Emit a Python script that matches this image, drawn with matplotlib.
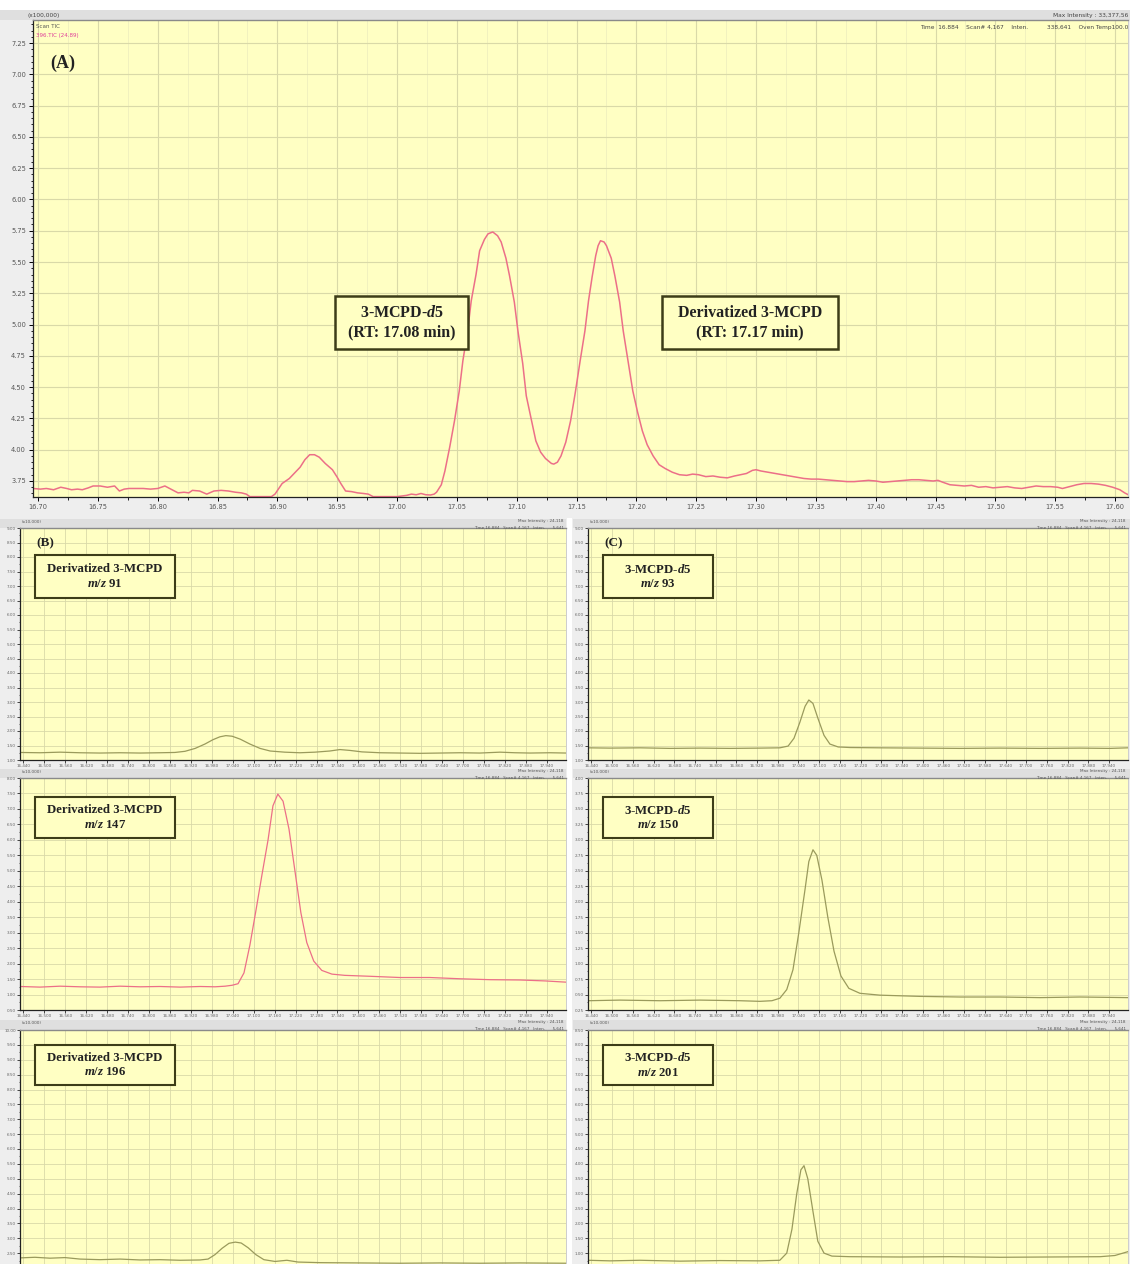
import matplotlib
matplotlib.use('Agg')
import matplotlib.pyplot as plt
from matplotlib.patches import Rectangle
from matplotlib.ticker import MultipleLocator, FormatStrFormatter

plt.rcParams['font.family'] = ['DejaVu Sans']
plt.rcParams['mathtext.fontset'] = 'custom'
plt.rcParams['mathtext.rm'] = 'Liberation Serif:bold'
plt.rcParams['mathtext.it'] = 'Liberation Serif:bold:italic'
plt.rcParams['mathtext.bf'] = 'Liberation Serif:bold'

# ---- (A) TIC chromatogram, intensity in x100,000 ----
tic_time = [16.696, 16.702, 16.707, 16.713, 16.719, 16.724, 16.728, 16.733, 16.737, 16.742,
            16.746, 16.752, 16.758, 16.764, 16.768, 16.772, 16.776, 16.782, 16.788, 16.794,
            16.800, 16.806, 16.811, 16.817, 16.822, 16.826, 16.829, 16.835, 16.841, 16.847,
            16.853, 16.859, 16.865, 16.870, 16.874, 16.877, 16.886, 16.895, 16.898, 16.904,
            16.910, 16.915, 16.919, 16.923, 16.927, 16.931, 16.935, 16.940, 16.946, 16.950,
            16.953, 16.957, 16.962, 16.967, 16.972, 16.976, 16.980, 17.000, 17.008, 17.012,
            17.016, 17.020, 17.024, 17.028, 17.031,
            17.033, 17.037, 17.040, 17.044, 17.048, 17.052, 17.055, 17.059, 17.062, 17.066,
            17.069, 17.073, 17.076, 17.080, 17.084, 17.087, 17.091, 17.094, 17.098, 17.101,
            17.105, 17.108, 17.112, 17.116, 17.120, 17.124, 17.129, 17.131,
            17.134, 17.137, 17.141, 17.145, 17.149, 17.153, 17.157, 17.160, 17.163, 17.166,
            17.168, 17.170, 17.173, 17.175, 17.179, 17.182, 17.186, 17.189, 17.193, 17.197,
            17.201, 17.205, 17.209, 17.214, 17.219, 17.224, 17.230, 17.236,
            17.242, 17.247, 17.252, 17.258, 17.264, 17.270, 17.276, 17.282, 17.287, 17.292,
            17.297, 17.300, 17.304, 17.310, 17.316, 17.322, 17.328, 17.334, 17.340, 17.346,
            17.352, 17.358, 17.364, 17.370, 17.376, 17.382, 17.388, 17.394, 17.400, 17.406,
            17.412, 17.418, 17.424, 17.430, 17.436, 17.442, 17.448, 17.452, 17.456, 17.462,
            17.468, 17.474, 17.480, 17.486, 17.492, 17.498, 17.504, 17.510, 17.516, 17.522,
            17.528, 17.534, 17.540, 17.546, 17.552, 17.556, 17.562, 17.568, 17.574, 17.580,
            17.586, 17.592, 17.598, 17.604, 17.608, 17.611]
tic_inten = [3.69, 3.685, 3.69, 3.68, 3.70, 3.69, 3.68, 3.685, 3.68, 3.695,
             3.71, 3.71, 3.70, 3.71, 3.67, 3.685, 3.69, 3.69, 3.69, 3.685,
             3.69, 3.71, 3.685, 3.655, 3.66, 3.655, 3.675, 3.67, 3.645, 3.67,
             3.675, 3.67, 3.66, 3.655, 3.645, 3.625, 3.625, 3.625, 3.645, 3.73,
             3.77, 3.82, 3.86, 3.92, 3.96, 3.96, 3.94, 3.89, 3.84, 3.78,
             3.73, 3.67, 3.665, 3.655, 3.65, 3.645, 3.625, 3.625, 3.635, 3.645,
             3.64, 3.65, 3.64, 3.638, 3.645,
             3.66, 3.72, 3.83, 4.02, 4.23, 4.47, 4.71, 4.95, 5.19, 5.40,
             5.59, 5.68, 5.725, 5.74, 5.71, 5.66, 5.53, 5.39, 5.18, 4.95,
             4.69, 4.43, 4.25, 4.07, 3.98, 3.93, 3.89, 3.885,
             3.90, 3.95, 4.06, 4.23, 4.46, 4.71, 4.95, 5.19, 5.38, 5.55,
             5.63, 5.67, 5.66, 5.63, 5.53, 5.39, 5.18, 4.95, 4.71, 4.47,
             4.30, 4.15, 4.04, 3.95, 3.88, 3.85, 3.82, 3.80,
             3.795, 3.805, 3.80, 3.785, 3.79, 3.78, 3.775, 3.79, 3.80, 3.81,
             3.835, 3.84, 3.83, 3.82, 3.81, 3.80, 3.79, 3.78, 3.77, 3.765,
             3.765, 3.76, 3.755, 3.75, 3.745, 3.745, 3.75, 3.755, 3.75, 3.74,
             3.745, 3.75, 3.755, 3.76, 3.76, 3.755, 3.75, 3.755, 3.74, 3.72,
             3.715, 3.71, 3.715, 3.70, 3.705, 3.695, 3.70, 3.705, 3.695, 3.69,
             3.70, 3.71, 3.705, 3.705, 3.70, 3.69, 3.705, 3.72, 3.73, 3.73,
             3.725, 3.715, 3.70, 3.68, 3.655, 3.64]
tic_ticks = [16.70, 16.75, 16.80, 16.85, 16.90, 16.95, 17.00, 17.05, 17.10, 17.15,
             17.20, 17.25, 17.30, 17.35, 17.40, 17.45, 17.50, 17.55, 17.60]
tic_yticks = [3.75, 4.00, 4.25, 4.50, 4.75, 5.00, 5.25, 5.50, 5.75, 6.00,
              6.25, 6.50, 6.75, 7.00, 7.25]
rt_d5 = 17.08
rt_mcpd = 17.17

# ---- (B) derivatized 3-MCPD ions ----
mz91_time = [16.430, 16.487, 16.545, 16.602, 16.659, 16.717, 16.774, 16.831, 16.874, 16.903,
             16.932, 16.960, 16.983, 17.003, 17.020, 17.038, 17.061, 17.089, 17.118, 17.147,
             17.189, 17.232, 17.275, 17.318, 17.347, 17.376, 17.410, 17.462, 17.519, 17.576,
             17.634, 17.691, 17.748, 17.806, 17.849, 17.892, 17.949, 17.995]
mz91_inten = [1.26, 1.25, 1.27, 1.25, 1.24, 1.25, 1.24, 1.25, 1.26, 1.30,
              1.40, 1.55, 1.70, 1.80, 1.84, 1.82, 1.72, 1.55, 1.40, 1.31,
              1.27, 1.25, 1.27, 1.31, 1.36, 1.33, 1.28, 1.25, 1.24, 1.23,
              1.24, 1.25, 1.24, 1.27, 1.25, 1.24, 1.25, 1.24]

mz147_time = [16.430, 16.487, 16.545, 16.602, 16.659, 16.717, 16.774, 16.831, 16.889, 16.946,
              16.989, 17.018, 17.038, 17.055, 17.072, 17.089, 17.106, 17.124, 17.141, 17.155,
              17.169, 17.184, 17.201, 17.218, 17.235, 17.252, 17.272, 17.295, 17.324, 17.361,
              17.433, 17.519, 17.605, 17.691, 17.777, 17.863, 17.935, 17.995]
mz147_inten = [1.26, 1.24, 1.27, 1.25, 1.24, 1.27, 1.25, 1.26, 1.24, 1.26,
               1.25, 1.27, 1.30, 1.35, 1.70, 2.60, 3.70, 4.90, 6.00, 7.10,
               7.48, 7.25, 6.35, 5.00, 3.65, 2.68, 2.08, 1.78, 1.66, 1.62,
               1.59, 1.55, 1.55, 1.51, 1.48, 1.47, 1.44, 1.40]

mz196_time = [16.430, 16.473, 16.516, 16.559, 16.602, 16.659, 16.717, 16.774, 16.831, 16.889,
              16.946, 16.969, 16.989, 17.009, 17.029, 17.047, 17.064, 17.084, 17.106, 17.129,
              17.161, 17.195, 17.227, 17.290, 17.404, 17.519, 17.634, 17.748, 17.863, 17.995]
mz196_inten = [2.34, 2.36, 2.33, 2.35, 2.30, 2.28, 2.30, 2.27, 2.28, 2.26,
               2.27, 2.30, 2.45, 2.66, 2.83, 2.87, 2.84, 2.68, 2.45, 2.28,
               2.22, 2.26, 2.20, 2.18, 2.17, 2.16, 2.17, 2.16, 2.17, 2.16]

# ---- (C) 3-MCPD-d5 ions ----
mz93_time = [16.430, 16.494, 16.581, 16.668, 16.755, 16.842, 16.928, 16.986, 17.010, 17.027,
             17.044, 17.059, 17.070, 17.082, 17.096, 17.114, 17.131, 17.155, 17.189, 17.276,
             17.392, 17.508, 17.624, 17.740, 17.856, 17.943, 17.995]
mz93_inten = [1.42, 1.41, 1.42, 1.40, 1.41, 1.40, 1.41, 1.42, 1.48, 1.75,
              2.30, 2.85, 3.07, 2.95, 2.45, 1.85, 1.55, 1.45, 1.43, 1.42,
              1.41, 1.40, 1.41, 1.40, 1.41, 1.40, 1.42]

mz150_time = [16.430, 16.523, 16.639, 16.755, 16.870, 16.928, 16.963, 16.986, 17.006, 17.024,
              17.041, 17.059, 17.070, 17.082, 17.093, 17.108, 17.125, 17.143, 17.163, 17.186,
              17.218, 17.276, 17.392, 17.508, 17.624, 17.740, 17.856, 17.995]
mz150_inten = [0.40, 0.41, 0.40, 0.41, 0.40, 0.39, 0.40, 0.44, 0.58, 0.90,
               1.50, 2.20, 2.65, 2.84, 2.75, 2.35, 1.75, 1.20, 0.80, 0.60,
               0.52, 0.49, 0.47, 0.46, 0.46, 0.45, 0.46, 0.45]

mz201_time = [16.430, 16.494, 16.581, 16.697, 16.813, 16.928, 16.986, 17.006, 17.021, 17.035,
              17.047, 17.056, 17.067, 17.082, 17.096, 17.114, 17.137, 17.189, 17.334, 17.479,
              17.624, 17.769, 17.914, 17.957, 17.995]
mz201_inten = [0.76, 0.74, 0.76, 0.73, 0.75, 0.74, 0.76, 1.00, 1.80, 3.00,
               3.80, 3.94, 3.50, 2.40, 1.40, 1.00, 0.90, 0.88, 0.87, 0.88,
               0.86, 0.87, 0.88, 0.92, 1.05]

W, H = 1130, 1264
YELLOW = '#ffffc3'
GRID = '#d9d9a8'
GRID_MINOR = '#ececbc'
BOX_EDGE = '#3d3d18'
PINK = '#ec6f88'
OLIVE = '#9a9a5c'
PANEL_GRAY = '#eeeeee'
STRIP_GRAY = '#dfdfdf'
SERIF = 'Liberation Serif'


def px_rect(x0, y0, x1, y1):
    return [x0 / W, 1 - y1 / H, (x1 - x0) / W, (y1 - y0) / H]


def gray_block(x0, y0, x1, y1, color):
    fig.add_artist(Rectangle((x0 / W, 1 - y1 / H), (x1 - x0) / W, (y1 - y0) / H,
                             transform=fig.transFigure, fc=color, ec='none', zorder=0))


def style_axes(ax):
    ax.set_facecolor(YELLOW)
    ax.set_axisbelow(True)
    for side in ('left', 'bottom'):
        ax.spines[side].set_color('#222222')
        ax.spines[side].set_linewidth(0.9)
    ax.spines['top'].set_color('#8a8a8a')
    ax.spines['top'].set_linewidth(1.0)
    ax.spines['right'].set_color('#c8c8c8')
    ax.spines['right'].set_linewidth(0.6)


def label_box(ax, x0, y0, w, h, text, size, lw):
    # framed caption drawn as a fixed rectangle with centred text
    ax.add_patch(Rectangle((x0, y0), w, h, transform=ax.transAxes, fc=YELLOW,
                           ec=BOX_EDGE, lw=lw, zorder=5))
    ax.text(x0 + w / 2, y0 + h / 2, text, transform=ax.transAxes, ha='center', va='center',
            fontsize=size, fontfamily=SERIF, fontweight='bold', color='#222222',
            linespacing=1.3, zorder=6)


fig = plt.figure(figsize=(W / 100, H / 100), dpi=100, facecolor='white')

# window backgrounds
gray_block(0, 10, W, 518, PANEL_GRAY)
gray_block(0, 10, W, 20, STRIP_GRAY)
gray_block(0, 518, 567, H, PANEL_GRAY)
gray_block(572, 518, W, H, PANEL_GRAY)
gray_block(567, 518, 572, H, 'white')
for y0, y1 in [(519, 528), (769, 778), (1020, 1030)]:
    gray_block(0, y0, 566, y1, STRIP_GRAY)
    gray_block(573, y0, W, y1, STRIP_GRAY)

# ---------------- panel A ----------------
axA = fig.add_axes(px_rect(33, 20, 1128, 497))
style_axes(axA)
axA.plot(tic_time, tic_inten, color=PINK, lw=1.1)
axA.set_xlim(16.6958, 17.6108)
axA.set_ylim(3.622, 7.434)
axA.set_xticks(tic_ticks)
axA.set_xticklabels([f'{t:.2f}' for t in tic_ticks])
axA.set_yticks(tic_yticks)
axA.set_yticklabels([f'{v:.2f}' for v in tic_yticks])
axA.xaxis.set_minor_locator(MultipleLocator(0.025))
axA.yaxis.set_minor_locator(MultipleLocator(0.05))
axA.grid(which='major', color=GRID, lw=0.8)
axA.grid(which='minor', axis='x', color=GRID_MINOR, lw=0.5)
axA.tick_params(which='major', labelsize=4.8, labelcolor='#555555', length=3, width=0.7, pad=2)
axA.tick_params(which='minor', length=1.8, width=0.6)

axA.text(0.016, 0.91, '(A)', transform=axA.transAxes, fontsize=13, va='center',
         fontfamily=SERIF, fontweight='bold', color='#222222')
label_box(axA, 0.2758, 0.3103, 0.1215, 0.1111,
          '3-MCPD-$\\mathit{d}$5\n(RT: %.2f min)' % rt_d5, 11.5, 1.8)
label_box(axA, 0.5744, 0.3103, 0.1607, 0.1111,
          'Derivatized 3-MCPD\n(RT: %.2f min)' % rt_mcpd, 11.5, 1.8)

# instrument header text
fig.text(28 / W, 1 - 16 / H, '(x100,000)', fontsize=4.2, color='#444444', va='center')
fig.text(36 / W, 1 - 26 / H, 'Scan TIC', fontsize=4.0, color='#555555', va='center')
fig.text(36 / W, 1 - 35 / H, '396.TIC (24.89)', fontsize=4.0, color='#e0409a', va='center')
fig.text(1128 / W, 1 - 15 / H, 'Max Intensity : 33,377,56', fontsize=4.2, color='#444444',
         va='center', ha='right')
fig.text(1128 / W, 1 - 28 / H,
         'Time  16.884    Scan# 4,167    Inten.          338,641    Oven Temp100.0',
         fontsize=4.2, color='#444444', va='center', ha='right')


# ---------------- small ion panels ----------------
def ion_panel(rect, times, inten, ylim, ystep, color, title, header_y, col_left,
              box_y, box_h, panel_tag=None, last_row=False):
    ax = fig.add_axes(rect)
    style_axes(ax)
    ax.plot(times, inten, color=color, lw=0.9)
    ax.set_xlim(16.43, 17.995)
    ax.set_ylim(*ylim)
    ax.xaxis.set_major_locator(MultipleLocator(0.06))
    ax.yaxis.set_major_locator(MultipleLocator(ystep))
    ax.yaxis.set_minor_locator(MultipleLocator(ystep / 2))
    ax.xaxis.set_major_formatter(FormatStrFormatter('%.3f'))
    ax.yaxis.set_major_formatter(FormatStrFormatter('%.2f'))
    ax.grid(which='major', color=GRID, lw=0.6)
    ax.tick_params(which='major', labelsize=3.0, labelcolor='#666666', length=2, width=0.5, pad=1)
    ax.tick_params(which='minor', length=1, width=0.4)
    if last_row:
        # the bottom row runs past the window edge, so its lowest labels are not shown
        ax.tick_params(axis='x', labelbottom=False)
        locs = ax.yaxis.get_majorticklocs()
        for loc, tick in zip(locs, ax.yaxis.get_major_ticks()):
            if loc < ylim[0] + ystep * 0.6:
                tick.label1.set_visible(False)
    if panel_tag:
        ax.text(0.03, 0.935, panel_tag, transform=ax.transAxes, fontsize=9.5,
                fontfamily=SERIF, fontweight='bold', color='#222222', va='center')
    if col_left:
        label_box(ax, 0.0275, box_y, 0.2564, box_h, title, 9.2, 1.5)
    else:
        label_box(ax, 0.0278, box_y, 0.2037, box_h, title, 9.2, 1.5)
    # header strip text
    x_left = 22 if col_left else 590
    x_right = 564 if col_left else 1126
    fig.text(x_left / W, 1 - (header_y + 3) / H, '(x10,000)', fontsize=3.0, color='#555555', va='center')
    fig.text(x_right / W, 1 - (header_y + 2) / H, 'Max Intensity : 24,118', fontsize=3.0,
             color='#555555', va='center', ha='right')
    fig.text(x_right / W, 1 - (header_y + 9) / H, 'Time 16.884   Scan# 4,167   Inten.      5,641',
             fontsize=3.0, color='#555555', va='center', ha='right')
    return ax


rows = [(528, 760, 519, 0.698, 0.185), (778, 1010, 769, 0.741, 0.177),
        (1030, 1268, 1020, 0.769, 0.168)]
left_series = [(mz91_time, mz91_inten, (1.0, 9.0), 0.5, OLIVE, '91'),
               (mz147_time, mz147_inten, (0.5, 8.0), 0.5, PINK, '147'),
               (mz196_time, mz196_inten, (2.0, 10.0), 0.5, OLIVE, '196')]
right_series = [(mz93_time, mz93_inten, (1.0, 9.0), 0.5, OLIVE, '93'),
                (mz150_time, mz150_inten, (0.25, 4.0), 0.25, OLIVE, '150'),
                (mz201_time, mz201_inten, (0.5, 8.5), 0.5, OLIVE, '201')]

for i, ((top, bottom, hy, by, bh), left, right) in enumerate(zip(rows, left_series, right_series)):
    last = i == len(rows) - 1
    t, v, yl, ys, c, mz = left
    ion_panel(px_rect(20, top, 566, bottom), t, v, yl, ys, c,
              'Derivatized 3-MCPD\n$\\mathit{m/z}$ ' + mz, hy, True, by, bh,
              '(B)' if i == 0 else None, last)
    t, v, yl, ys, c, mz = right
    ion_panel(px_rect(588, top, 1128, bottom), t, v, yl, ys, c,
              '3-MCPD-$\\mathit{d}$5\n$\\mathit{m/z}$ ' + mz, hy, False, by, bh,
              '(C)' if i == 0 else None, last)

fig.savefig('out.png', dpi=100, facecolor='white')
